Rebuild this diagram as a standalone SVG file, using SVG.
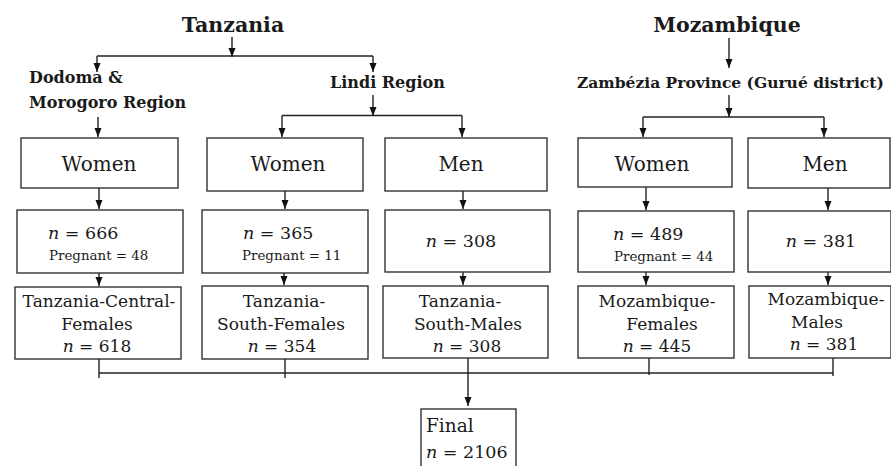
<svg xmlns="http://www.w3.org/2000/svg" width="891" height="466" viewBox="0 0 891 466">
<defs>
<marker id="ah" markerUnits="userSpaceOnUse" markerWidth="10" markerHeight="8" refX="9" refY="3.5" orient="auto">
<path d="M0,0 L9,3.5 L0,7 z" fill="#111"/>
</marker>
<style>
.box{fill:#fff;stroke:#333;stroke-width:1.4}
.ln{stroke:#222;stroke-width:1.4;fill:none}
.ar{marker-end:url(#ah)}
text{font-family:"DejaVu Serif","Liberation Serif",serif;fill:#1a1a1a}
.h1{font-size:20.5px;font-weight:bold}
.h2{font-size:16px;font-weight:bold}
.lab{font-size:20px;text-anchor:middle}
.num{font-size:17.5px}
.mid{text-anchor:middle}
.preg{font-size:13.4px}
.fin{font-size:17px;text-anchor:middle}
.it{font-style:italic}
</style>
</defs>
<rect width="891" height="466" fill="#fff"/>

<g id="connectors">
<path class="ln ar" d="M232,37 V57"/>
<path class="ln" d="M97,56 H373"/>
<path class="ln ar" d="M97,56 V72"/>
<path class="ln ar" d="M373,56 V72"/>
<path class="ln ar" d="M98,117 V137"/>
<path class="ln ar" d="M373,95 V116"/>
<path class="ln" d="M282,115.5 H462"/>
<path class="ln ar" d="M282,115.5 V137"/>
<path class="ln ar" d="M462,115.5 V137"/>
<path class="ln ar" d="M729,38 V68"/>
<path class="ln ar" d="M729,95 V117"/>
<path class="ln" d="M643,117 H824"/>
<path class="ln ar" d="M643,117 V137"/>
<path class="ln ar" d="M824,117 V137"/>
<path class="ln ar" d="M99,188 V209"/>
<path class="ln ar" d="M285,191 V209"/>
<path class="ln ar" d="M463,191 V209"/>
<path class="ln ar" d="M646,187 V210"/>
<path class="ln ar" d="M828,188 V210"/>
<path class="ln ar" d="M99,273 V286"/>
<path class="ln ar" d="M284,273 V285"/>
<path class="ln ar" d="M463,272 V285"/>
<path class="ln ar" d="M646,272 V285"/>
<path class="ln ar" d="M828,272 V285"/>
<path class="ln" d="M99,359 V378"/>
<path class="ln" d="M285,359 V378"/>
<path class="ln" d="M649,358 V375"/>
<path class="ln" d="M833,358 V376"/>
<path class="ln" d="M99,373 H833"/>
<path class="ln ar" d="M468,343 V406"/>
</g>

<g id="tanzania"><text class="h1 mid" x="233" y="32">Tanzania</text></g>
<g id="mozambique"><text class="h1 mid" x="727" y="32">Mozambique</text></g>
<g id="dodoma"><text class="h2" x="29" y="83">Dodoma &amp;</text><text class="h2" x="29" y="108">Morogoro Region</text></g>
<g id="lindi"><text class="h2" x="330" y="88">Lindi Region</text></g>
<g id="zambezia"><text class="h2" x="577" y="88" style="font-size:15.5px">Zambézia Province (Gurué district)</text></g>

<g id="tc-women"><rect class="box" x="21" y="138" width="157" height="50"/><text class="lab" x="99" y="171">Women</text></g>
<g id="ts-women"><rect class="box" x="207" y="138" width="156" height="53"/><text class="lab" x="288" y="171">Women</text></g>
<g id="ts-men"><rect class="box" x="385" y="138" width="162" height="53"/><text class="lab" x="461" y="171">Men</text></g>
<g id="mz-women"><rect class="box" x="578" y="138" width="154" height="49"/><text class="lab" x="652" y="171">Women</text></g>
<g id="mz-men"><rect class="box" x="748" y="138" width="142" height="50"/><text class="lab" x="825" y="171">Men</text></g>

<g id="tc-n"><rect class="box" x="17" y="210" width="166" height="63"/><text class="num" x="48" y="239"><tspan class="it">n</tspan> = 666</text><text class="preg" x="49" y="260">Pregnant = 48</text></g>
<g id="ts-n-w"><rect class="box" x="202" y="210" width="166" height="63"/><text class="num" x="243" y="239"><tspan class="it">n</tspan> = 365</text><text class="preg" x="242" y="260">Pregnant = 11</text></g>
<g id="ts-n-m"><rect class="box" x="385" y="210" width="165" height="62"/><text class="num mid" x="461" y="247"><tspan class="it">n</tspan> = 308</text></g>
<g id="mz-n-w"><rect class="box" x="578" y="211" width="156" height="61"/><text class="num" x="613" y="240"><tspan class="it">n</tspan> = 489</text><text class="preg" x="614" y="261">Pregnant = 44</text></g>
<g id="mz-n-m"><rect class="box" x="748" y="211" width="143" height="61"/><text class="num mid" x="821" y="247"><tspan class="it">n</tspan> = 381</text></g>

<g id="tcf"><rect class="box" x="15" y="287" width="166" height="72"/><text class="fin" x="99" y="307">Tanzania-Central-</text><text class="fin" x="97" y="330">Females</text><text class="fin" x="97" y="352"><tspan class="it">n</tspan> = 618</text></g>
<g id="tsf"><rect class="box" x="202" y="286" width="166" height="73"/><text class="fin" x="284" y="307">Tanzania-</text><text class="fin" x="281" y="330">South-Females</text><text class="fin" x="282" y="352"><tspan class="it">n</tspan> = 354</text></g>
<g id="tsm"><rect class="box" x="383" y="286" width="165" height="72"/><text class="fin" x="460" y="307">Tanzania-</text><text class="fin" x="468" y="330">South-Males</text><text class="fin" x="467" y="352"><tspan class="it">n</tspan> = 308</text></g>
<g id="mzf"><rect class="box" x="578" y="286" width="156" height="72"/><text class="fin" x="657" y="307">Mozambique-</text><text class="fin" x="662" y="330">Females</text><text class="fin" x="657" y="352"><tspan class="it">n</tspan> = 445</text></g>
<g id="mzm"><rect class="box" x="749" y="286" width="142" height="72"/><text class="fin" x="826" y="305">Mozambique-</text><text class="fin" x="817" y="328">Males</text><text class="fin" x="824" y="350"><tspan class="it">n</tspan> = 381</text></g>

<g id="final"><rect class="box" x="421" y="409" width="95" height="62"/><text class="num" x="426" y="432" style="font-size:18.5px">Final</text><text class="num" x="426" y="458">
<tspan class="it">n</tspan> = 2106</text></g>
</svg>
